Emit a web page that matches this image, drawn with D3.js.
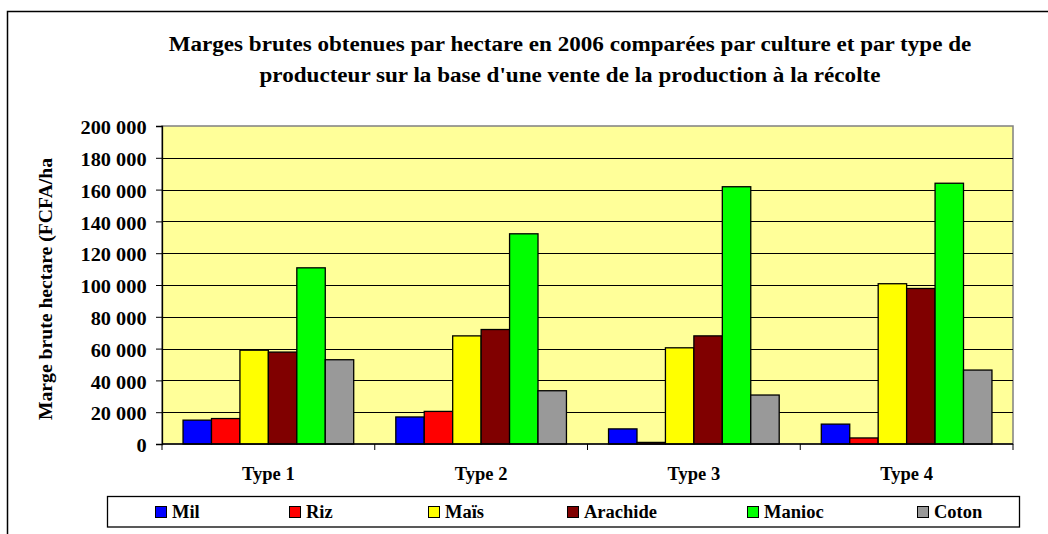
<!DOCTYPE html>
<html>
<head>
<meta charset="utf-8">
<script src="https://cdn.jsdelivr.net/npm/d3@7"></script>
<style>
  body { margin: 0; background: #fff; }
</style>
</head>
<body>
<div id="chart"></div>
<script>
// data
var types = ["Type 1", "Type 2", "Type 3", "Type 4"];
var cultures = ["Mil", "Riz", "Maïs", "Arachide", "Manioc", "Coton"];
var colors = ["#0000FF", "#FF0000", "#FFFF00", "#800000", "#00FF00", "#999999"];
var mil      = [15000, 17000, 9500, 12500];
var riz      = [16000, 20500, 1000, 3800];
var mais     = [59000, 68000, 60500, 100800];
var arachide = [57800, 72000, 68000, 97800];
var manioc   = [110800, 132200, 161800, 164000];
var coton    = [53000, 33500, 30800, 46500];
var yTicks = [0, 20000, 40000, 60000, 80000, 100000, 120000, 140000, 160000, 180000, 200000];

var series = [mil, riz, mais, arachide, manioc, coton];
var FONT = "Liberation Serif";

var width = 1048, height = 534;
var plot = {left: 162, top: 126, right: 1013, bottom: 444};

var svg = d3.select("#chart").append("svg").attr("width", width).attr("height", height);

function serif(sel, size){
    return sel.style("font-family", FONT).style("font-weight", "bold")
        .style("font-size", size + "px").style("fill", "#000");
}

// outer frame
svg.append("path")
    .attr("d", "M7.5," + height + " V11.5 H" + width)
    .attr("fill", "none").attr("stroke", "#000").attr("stroke-width", 1.5);

// title (the original picture is a little stretched sideways)
var title = ["Marges brutes obtenues par hectare en 2006 comparées par culture et par type de",
             "producteur sur la base d'une vente de la production à la récolte"];
svg.selectAll("text.title").data(title).enter().append("text")
    .attr("class", "title")
    .attr("transform", function(d, i){ return "translate(570," + (51 + i * 31) + ") scale(1.1,1)"; })
    .attr("text-anchor", "middle")
    .call(serif, 21)
    .text(function(d){ return d; });

var x0 = d3.scaleBand().domain(types).range([plot.left, plot.right]).paddingInner(0).paddingOuter(0);
var x1 = d3.scaleBand().domain(d3.range(cultures.length)).range([0, x0.bandwidth()]).paddingOuter(0.74).paddingInner(0);
var y = d3.scaleLinear().domain([0, 200000]).range([plot.bottom, plot.top]);

// plot background
svg.append("rect")
    .attr("x", plot.left).attr("y", plot.top)
    .attr("width", plot.right - plot.left).attr("height", plot.bottom - plot.top)
    .attr("fill", "#FFFF99").attr("stroke", "#808080").attr("stroke-width", 1.5);

// gridlines
svg.selectAll("line.grid").data(yTicks.slice(1, -1)).enter().append("line")
    .attr("x1", plot.left).attr("x2", plot.right)
    .attr("y1", function(d){ return Math.round(y(d)) + 0.5; })
    .attr("y2", function(d){ return Math.round(y(d)) + 0.5; })
    .attr("stroke", "#000").attr("stroke-width", 1);

// bars
var fmt = function(v){ return d3.format(",")(v).replace(/,/g, " "); };
var groups = svg.selectAll("g.type").data(types).enter().append("g")
    .attr("transform", function(d){ return "translate(" + x0(d) + ",0)"; });
groups.selectAll("rect").data(function(d, ti){
        return series.map(function(s, si){ return {si: si, v: s[ti]}; });
    }).enter().append("rect")
    .attr("x", function(d){ return x1(d.si); })
    .attr("y", function(d){ return y(d.v); })
    .attr("width", x1.bandwidth())
    .attr("height", function(d){ return y(0) - y(d.v); })
    .attr("fill", function(d){ return colors[d.si]; })
    .attr("stroke", "#000").attr("stroke-width", 1.3);

// y axis
var yAxis = svg.append("g").attr("transform", "translate(" + plot.left + ",0)")
    .call(d3.axisLeft(y).tickValues(yTicks).tickSize(6).tickPadding(8).tickFormat(fmt));
yAxis.select(".domain").attr("stroke", "#000").attr("stroke-width", 1.3);
yAxis.selectAll(".tick line").attr("stroke", "#000");
yAxis.selectAll(".tick text").call(serif, 18.5)
    .attr("dy", "0.42em").attr("transform", "scale(1.1,1)");

// x axis
var xAxis = svg.append("g").attr("transform", "translate(0," + plot.bottom + ")");
xAxis.append("line").attr("x1", plot.left).attr("x2", plot.right)
    .attr("stroke", "#000").attr("stroke-width", 1.3);
xAxis.selectAll("line.tk").data(types.concat(["end"])).enter().append("line")
    .attr("x1", function(d, i){ return i < types.length ? x0(d) : plot.right; })
    .attr("x2", function(d, i){ return i < types.length ? x0(d) : plot.right; })
    .attr("y1", 0).attr("y2", 6).attr("stroke", "#000");
xAxis.selectAll("text").data(types).enter().append("text")
    .attr("x", function(d){ return x0(d) + x0.bandwidth() / 2; })
    .attr("y", 36).attr("text-anchor", "middle")
    .call(serif, 18.5)
    .text(function(d){ return d; });

// y axis title
svg.append("text")
    .attr("transform", "translate(52,289) rotate(-90)")
    .attr("text-anchor", "middle")
    .call(serif, 19.7)
    .text("Marge brute hectare (FCFA/ha");

// legend
var legendX = [155, 289, 428, 567, 747, 917];
svg.append("rect").attr("x", 107.5).attr("y", 496.5).attr("width", 912).attr("height", 30.5)
    .attr("fill", "#fff").attr("stroke", "#000").attr("stroke-width", 1.3);
var leg = svg.selectAll("g.leg").data(cultures).enter().append("g")
    .attr("transform", function(d, i){ return "translate(" + legendX[i] + ",512)"; });
leg.append("rect").attr("x", 0.5).attr("y", -5.5).attr("width", 11).attr("height", 11)
    .attr("fill", function(d, i){ return colors[i]; }).attr("stroke", "#000").attr("stroke-width", 1);
leg.append("text").attr("x", 17).attr("y", 5.5)
    .call(serif, 18.5)
    .text(function(d){ return d; });
</script>
</body>
</html>
